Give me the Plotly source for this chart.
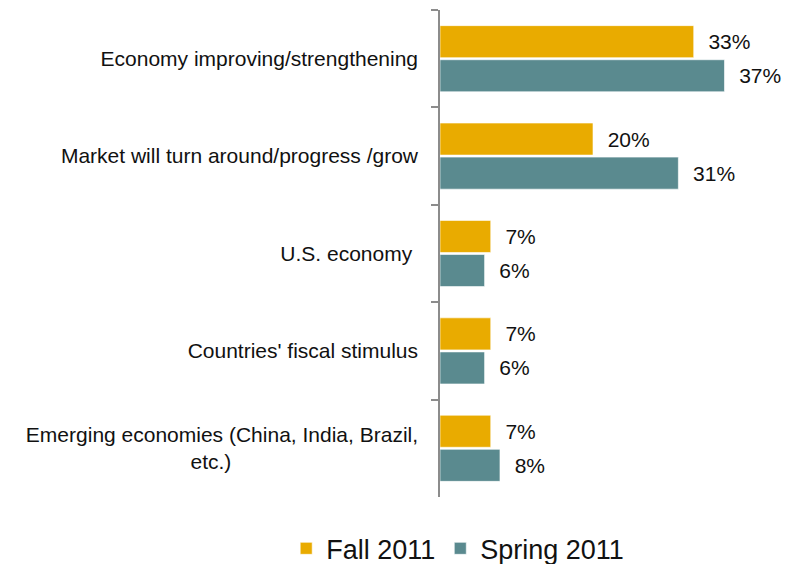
import plotly.graph_objects as go

categories = [
    "Economy improving/strengthening",
    "Market will turn around/progress /grow",
    "U.S. economy\u00a0",
    "Countries' fiscal stimulus",
    "Emerging economies (China, India, Brazil,<br>etc.)" + "\u00a0" * 32,
]
fall_2011 = [33.0, 19.9, 6.6, 6.6, 6.6]
spring_2011 = [37.0, 31.0, 5.8, 5.8, 7.8]
series_names = ["Fall 2011", "Spring 2011"]
colors = ["#E9AB00", "#5A8A8F"]

fig = go.Figure()
for name, vals, col in zip(series_names, [fall_2011, spring_2011], colors):
    fig.add_trace(go.Bar(
        y=categories, x=vals, name=name, orientation="h",
        marker=dict(color=col, line=dict(color="rgba(255,255,255,0.6)", width=1)),
        texttemplate="\u00a0\u00a0%{x:.0f}%", textposition="outside",
        textfont=dict(family="Liberation Sans, Arial", size=21, color="#111111"),
        cliponaxis=False,
    ))

fig.update_layout(
    width=796, height=564,
    margin=dict(l=440, r=10, t=10, b=67, autoexpand=False),
    plot_bgcolor="white", paper_bgcolor="white",
    barmode="group", bargap=0.3, bargroupgap=0.06,
    font=dict(family="Liberation Sans, Arial", size=21, color="#111111"),
    xaxis=dict(range=[0, 45], visible=False, showgrid=False, zeroline=False,
               automargin=False),
    yaxis=dict(
        autorange="reversed", showline=True, linecolor="#8C8C8C", linewidth=1.5,
        ticks="outside", ticklen=7, tickwidth=1.5, tickcolor="#8C8C8C",
        tickson="boundaries", showgrid=False, ticklabelstandoff=16,
        tickfont=dict(size=21, color="#111111"), automargin=False,
    ),
    legend=dict(
        orientation="h", xref="container", yref="container",
        x=0.575, xanchor="center", y=0.027, yanchor="middle",
        font=dict(size=27, color="#111111"), itemwidth=30,
    ),
)

fig.write_html(
    "out.html",
    config={"displayModeBar": False},
    post_script="document.body.style.margin='0';document.body.style.overflow='hidden';",
)
